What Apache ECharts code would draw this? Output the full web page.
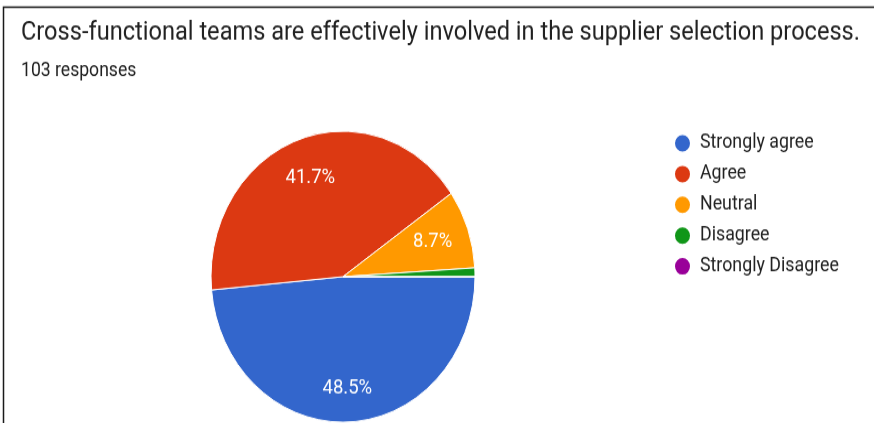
<!DOCTYPE html>
<html>
<head>
<meta charset="utf-8">
<script src="https://cdn.jsdelivr.net/npm/echarts@6/dist/echarts.min.js"></script>
<style>
  html, body { margin: 0; padding: 0; background: #fff; overflow: hidden; }
  #wrap { width: 874px; height: 423px; overflow: hidden; position: relative; }
  /* the chart is laid out on a shorter canvas and stretched vertically */
  #chart { width: 874px; height: 384px; transform: scaleY(1.1023); transform-origin: 0 0; }
</style>
</head>
<body>
<div id="wrap"><div id="chart"></div></div>
<script>
const titleText = 'Cross-functional teams are effectively involved in the supplier selection process.';
const subtitleText = '103 responses';
const categories = ['Strongly agree', 'Agree', 'Neutral', 'Disagree', 'Strongly Disagree'];
const responseCounts = [50, 43, 9, 1, 0];
const sliceColors = ['#3366cc', '#dc3912', '#ff9900', '#109618', '#990099'];

const total = responseCounts.reduce((a, b) => a + b, 0);
const pieData = categories.map((name, i) => ({
  name: name,
  value: responseCounts[i],
  itemStyle: { color: sliceColors[i] }
}));

const chart = echarts.init(document.getElementById('chart'), null, { renderer: 'canvas' });

const center = [343, 251];
const radius = 132;

chart.setOption({
  animation: false,
  backgroundColor: '#ffffff',
  title: [
    {
      text: titleText,
      left: 16,
      top: 13,
      textStyle: { fontFamily: 'Roboto', fontSize: 23.6, fontWeight: 'normal', color: '#212121' }
    },
    {
      text: subtitleText,
      left: 16,
      top: 51,
      textStyle: { fontFamily: 'Roboto', fontSize: 17.6, fontWeight: 'normal', color: '#212121' }
    }
  ],
  legend: {
    orient: 'vertical',
    left: 668,
    top: 115.5,
    icon: 'circle',
    itemWidth: 17,
    itemHeight: 17,
    itemGap: 8.9,
    data: categories,
    textStyle: { fontFamily: 'Roboto', fontSize: 17.8, color: '#222222', padding: [0, 0, 0, 4] }
  },
  graphic: [
    {
      type: 'polyline',
      silent: true,
      shape: { points: [[3.5, 384], [3.5, 6.6], [874, 6.6]] },
      style: { stroke: '#1a1a1a', lineWidth: 1.5, fill: null }
    }
  ],
  series: [
    {
      type: 'pie',
      center: center,
      radius: radius,
      startAngle: 0,
      clockwise: true,
      data: pieData,
      label: { show: false },
      labelLine: { show: false },
      itemStyle: { borderColor: '#ffffff', borderWidth: 1 },
      emphasis: { disabled: true }
    },
    {
      // label-only ring so percentages sit further out along each slice
      type: 'pie',
      center: center,
      radius: [52, radius],
      startAngle: 0,
      clockwise: true,
      silent: true,
      data: pieData.map(d => ({ name: d.name, value: d.value, itemStyle: { color: 'rgba(0,0,0,0)' } })),
      label: {
        show: true,
        position: 'inside',
        fontFamily: 'Roboto',
        fontSize: 18.5,
        color: '#ffffff',
        formatter: p => (p.value / total * 100 < 3 ? '' : (p.value / total * 100).toFixed(1) + '%')
      },
      // the largest slice's label sits a little lower, nearer the rim
      labelLayout: p => (p.dataIndex === 0 ? { dy: 6 } : {}),
      labelLine: { show: false },
      itemStyle: { borderWidth: 0 },
      emphasis: { disabled: true },
      tooltip: { show: false }
    }
  ]
});
</script>
</body>
</html>
